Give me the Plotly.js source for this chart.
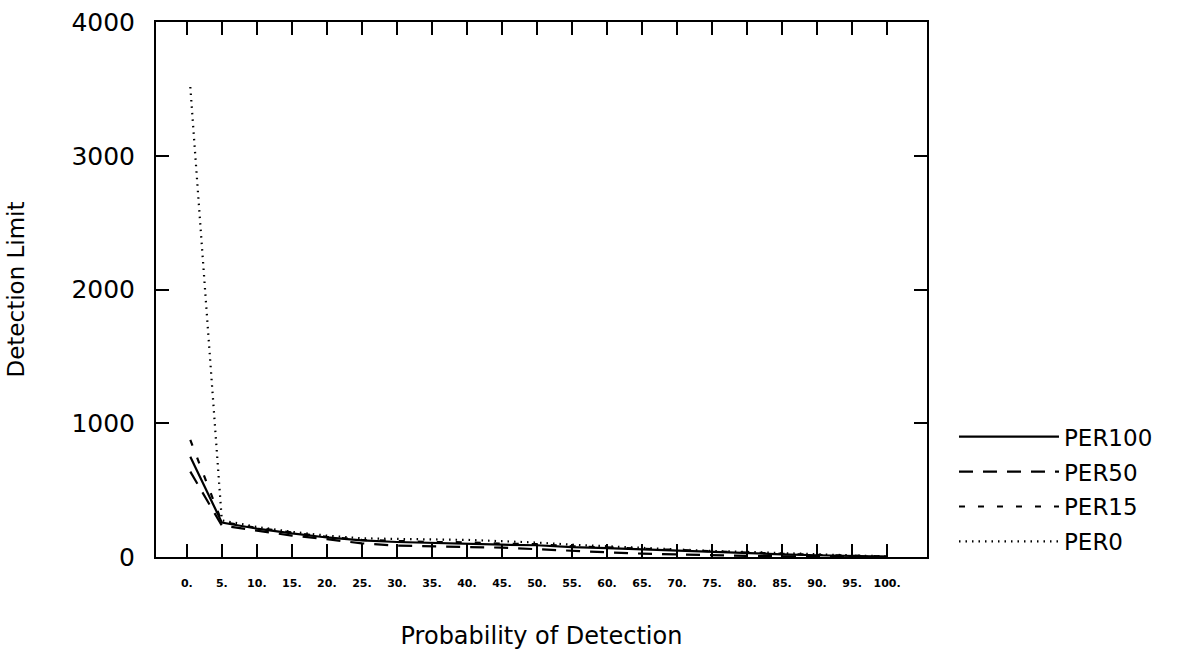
<!DOCTYPE html>
<html>
<head>
<meta charset="utf-8">
<script src="https://cdn.plot.ly/plotly-3.0.1.min.js"></script>
<style>
  html, body { margin: 0; padding: 0; background: #fff; }
  #chart { width: 1195px; height: 656px; }
</style>
</head>
<body>
<div id="chart"></div>
<script>
// Probability of detection (x) and detection limits for each series
const probability = [0.5, 5, 10, 15, 20, 25, 30, 35, 40, 45, 50, 55, 60, 65, 70, 75, 80, 85, 90, 95, 100];
const per100 = [750, 258, 212, 176, 146, 124, 112, 104, 100, 92, 88, 74, 66, 56, 45, 35, 28, 20, 13, 7, 3];
const per50  = [638, 235, 197, 160, 133, 102, 85, 80, 78, 70, 58, 45, 35, 25, 18, 12, 8, 5, 3, 2, 1];
const per15  = [875, 262, 218, 182, 150, 128, 118, 112, 110, 100, 96, 80, 72, 62, 50, 40, 32, 24, 16, 9, 4];
const per0   = [3514, 274, 225, 188, 160, 140, 135, 132, 128, 118, 108, 92, 80, 68, 55, 45, 38, 28, 20, 12, 5];
const seriesNames = ['PER100', 'PER50', 'PER15', 'PER0'];

const xTickVals = [0, 5, 10, 15, 20, 25, 30, 35, 40, 45, 50, 55, 60, 65, 70, 75, 80, 85, 90, 95, 100];
const xTickText = ['0.', '5.', '10.', '15.', '20.', '25.', '30.', '35.', '40.', '45.', '50.', '55.', '60.', '65.', '70.', '75.', '80.', '85.', '90.', '95.', '100.'];
const yTickVals = [0, 1000, 2000, 3000, 4000];
const yTickText = ['0', '1000', '2000', '3000', '4000'];

const seriesValues = [per100, per50, per15, per0];
const dashes = ['solid', '14px,10px', '6px,13px', '1.5px,5px'];

const traces = seriesValues.map((vals, i) => ({
  type: 'scatter',
  mode: 'lines',
  x: probability,
  y: vals,
  name: seriesNames[i],
  legendgroup: 'g' + i,
  line: { color: '#000', width: 2.2, dash: dashes[i] }
}));

const FONT = 'DejaVu Sans, Liberation Sans, sans-serif';

const layout = {
  width: 1195,
  height: 656,
  paper_bgcolor: '#fff',
  plot_bgcolor: '#fff',
  margin: { l: 156, r: 268, t: 22, b: 99 },
  showlegend: true,
  font: { family: FONT, color: '#000' },
  xaxis: {
    range: [-4.4, 105.7],
    tickmode: 'array',
    tickvals: xTickVals,
    ticktext: xTickText,
    ticks: 'inside',
    ticklen: 13,
    tickwidth: 2,
    tickcolor: '#000',
    ticklabelstandoff: 15,
    tickfont: { family: FONT, size: 11, weight: 'bold', color: '#000' },
    showline: true,
    linecolor: '#000',
    linewidth: 2,
    mirror: 'ticks',
    showgrid: false,
    zeroline: false,
    title: { text: 'Probability of Detection', font: { family: FONT, size: 24, color: '#000' }, standoff: 38 }
  },
  yaxis: {
    range: [0, 4000],
    tickmode: 'array',
    tickvals: yTickVals,
    ticktext: yTickText,
    ticks: 'inside',
    ticklen: 13,
    tickwidth: 2,
    tickcolor: '#000',
    ticklabelstandoff: 14,
    tickfont: { family: FONT, size: 25, color: '#000' },
    showline: true,
    linecolor: '#000',
    linewidth: 2,
    mirror: 'ticks',
    showgrid: false,
    zeroline: false,
    title: { text: 'Detection Limit', font: { family: FONT, size: 23, color: '#000' }, standoff: 40 }
  },
  legend: {
    x: 1.035,
    xanchor: 'left',
    y: 0.265,
    yanchor: 'top',
    font: { family: FONT, size: 23, color: '#000' },
    bgcolor: 'rgba(0,0,0,0)',
    itemwidth: 100,
    tracegroupgap: 2
  }
};

Plotly.newPlot('chart', traces, layout, { displayModeBar: false, staticPlot: true });
</script>
</body>
</html>
